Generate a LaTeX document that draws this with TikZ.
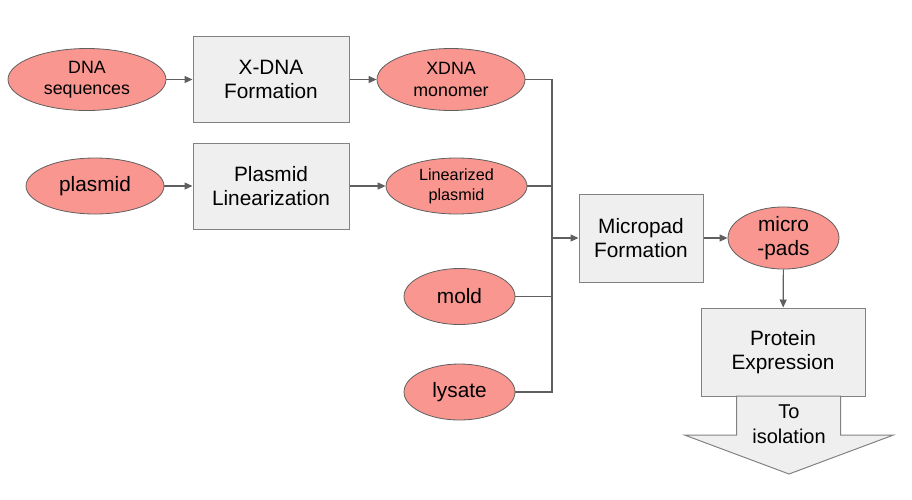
\documentclass[tikz,border=0pt]{standalone}
\usepackage{fontspec}
\setmainfont{Liberation Sans}
\usepackage{tikz}
\usetikzlibrary{shapes}
\usetikzlibrary{arrows.meta}
\definecolor{padred}{RGB}{248,150,143}
\definecolor{boxgray}{RGB}{239,239,239}
\definecolor{edgegray}{RGB}{130,130,130}
\definecolor{linegray}{RGB}{95,95,95}
\tikzstyle{blob}=[ellipse, draw=linegray, line width=0.8pt, fill=padred, inner sep=0pt, align=center, font=\fontsize{20.8}{24.5}\selectfont]
\tikzstyle{procbox}=[rectangle, draw=edgegray, line width=1pt, fill=boxgray, inner sep=0pt, align=center, font=\fontsize{20.8}{24.5}\selectfont]
\tikzstyle{link}=[draw=linegray, line width=1.2pt]
\tikzstyle{flow}=[link, -{Triangle[length=8pt,width=7pt]}]

\begin{document}
\begin{tikzpicture}[x=1pt,y=-1pt]
\useasboundingbox (0,0) rectangle (912,499);
\coordinate (join) at (552,238);
\node[blob, minimum width=158pt, minimum height=62pt, font=\fontsize{17.8}{21.5}\selectfont] (dna) at (87,79.5) {DNA\\sequences};
\node[procbox, minimum width=156pt, minimum height=86pt] (xform) at (271,79.5) {X-DNA\\Formation};
\node[blob, minimum width=148pt, minimum height=62pt, font=\fontsize{17.8}{21.5}\selectfont] (xdna) at (451,79.5) {XDNA\\monomer};
\node[blob, minimum width=138pt, minimum height=56pt] (plasmid) at (95,186) {plasmid};
\node[procbox, minimum width=156pt, minimum height=86pt] (plin) at (271,186) {Plasmid\\Linearization};
\node[blob, minimum width=141pt, minimum height=56pt, font=\fontsize{16.2}{20}\selectfont] (linp) at (456.5,186) {Linearized\\plasmid};
\node[blob, minimum width=111pt, minimum height=56pt] (mold) at (459.5,296.5) {mold};
\node[blob, minimum width=111pt, minimum height=56pt] (lysate) at (459.5,392) {lysate};
\node[procbox, minimum width=124pt, minimum height=88pt] (mform) at (641,238) {Micropad\\Formation};
\node[blob, minimum width=111pt, minimum height=56pt] (pads) at (783.5,238) {micro\\-pads};
\node[procbox, minimum width=164pt, minimum height=88pt] (protein) at (783,352) {Protein\\Expression};
\filldraw[fill=boxgray, draw=edgegray, line width=1pt] (736.5,396) -- (840.5,396) -- (840.5,435) -- (893.5,435) -- (789,474) -- (684.5,435) -- (736.5,435) -- cycle;
\node[align=center, inner sep=0pt, font=\fontsize{20}{25.5}\selectfont] (iso) at (789,424) {To\\isolation};
\draw[flow] (dna) -- (xform);
\draw[flow] (xform) -- (xdna);
\draw[flow] (plasmid) -- (plin);
\draw[flow] (plin) -- (linp);
\draw[link] (xdna.east) -| (join);
\draw[link] (linp.east) -| (join);
\draw[link] (mold.east) -| (join);
\draw[link] (lysate.east) -| (join);
\draw[flow] (join) -- (mform.west);
\draw[flow] (mform) -- (pads);
\draw[flow] (pads) -- (protein);
\end{tikzpicture}
\end{document}
